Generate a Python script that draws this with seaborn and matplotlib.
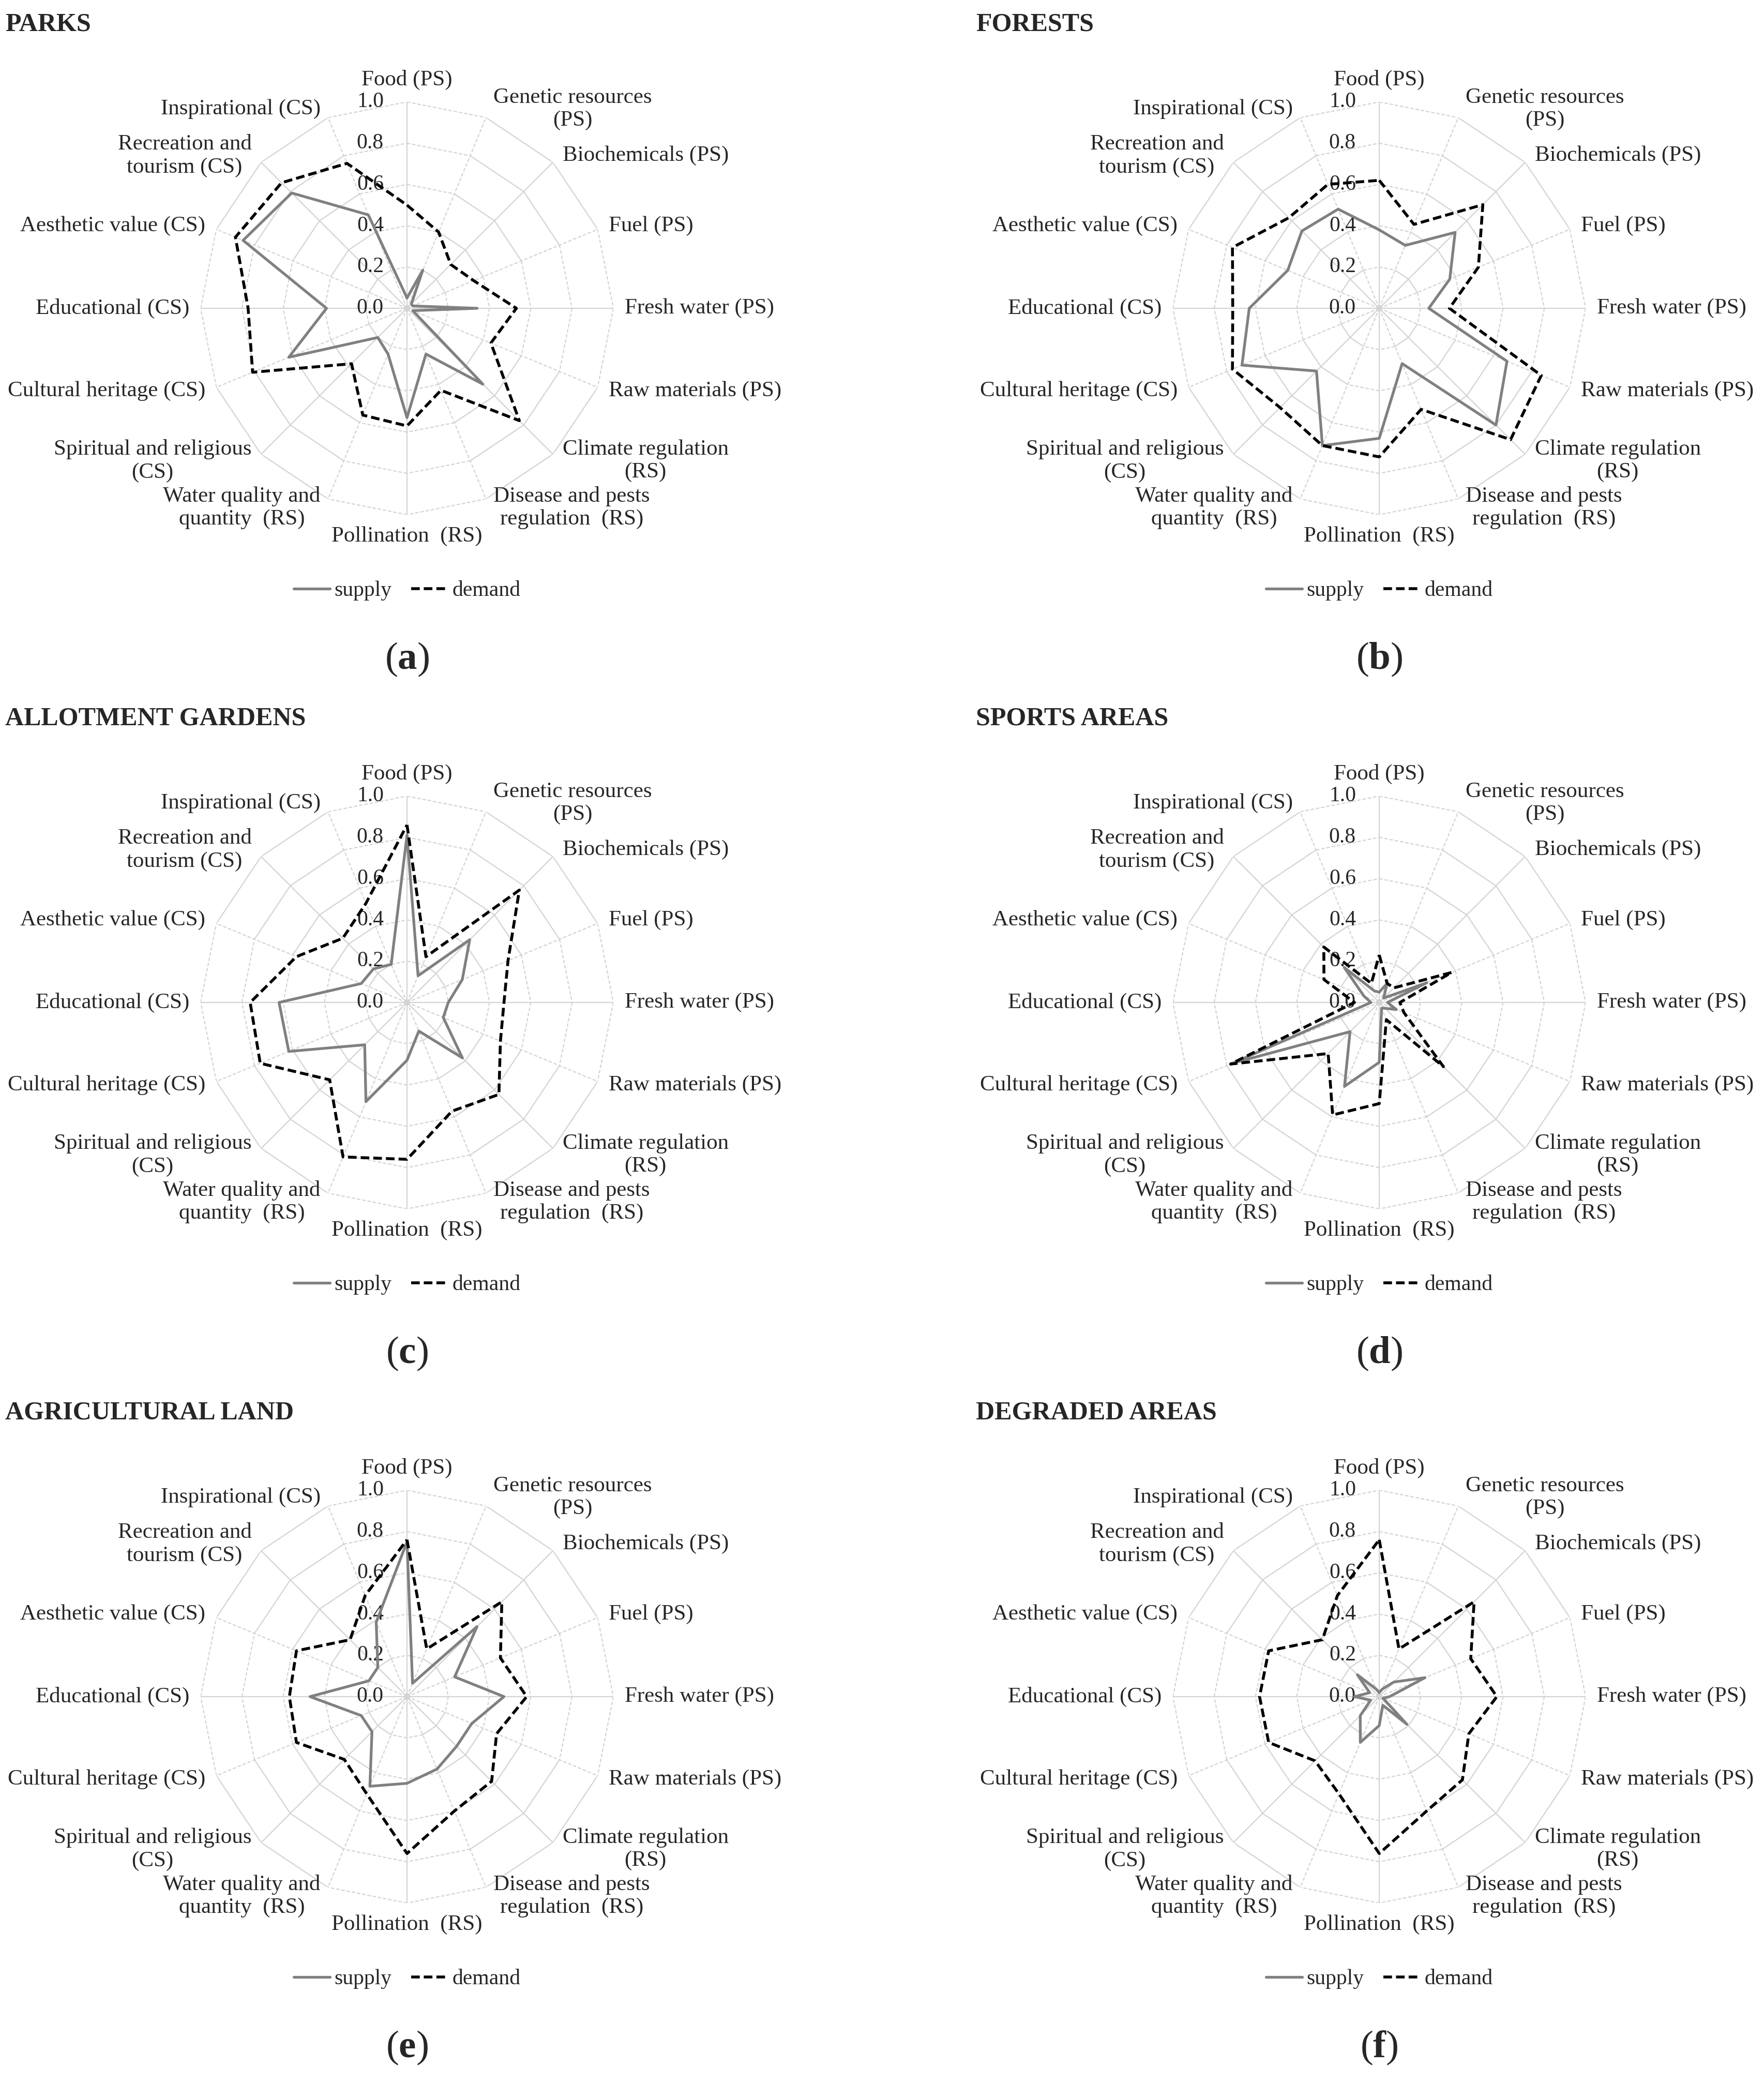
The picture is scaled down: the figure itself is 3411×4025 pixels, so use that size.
import numpy as np
import seaborn as sns
import matplotlib.pyplot as plt
from matplotlib.lines import Line2D
from matplotlib.transforms import offset_copy

# categories (ecosystem services), clockwise from the top
categories = ["Food (PS)", "Genetic resources\n(PS)", "Biochemicals (PS)", "Fuel (PS)",
              "Fresh water (PS)", "Raw materials (PS)", "Climate regulation\n(RS)",
              "Disease and pests\nregulation  (RS)", "Pollination  (RS)",
              "Water quality and\nquantity  (RS)", "Spiritual and religious\n(CS)",
              "Cultural heritage (CS)", "Educational (CS)", "Aesthetic value (CS)",
              "Recreation and\ntourism (CS)", "Inspirational (CS)"]

titles = ["PARKS", "FORESTS", "ALLOTMENT GARDENS", "SPORTS AREAS",
          "AGRICULTURAL LAND", "DEGRADED AREAS"]
tags = ["a", "b", "c", "d", "e", "f"]
ticks = [0.0, 0.2, 0.4, 0.6, 0.8, 1.0]

parks_supply = [0.05, 0.20, 0.03, 0.03, 0.34, 0.03, 0.52, 0.24, 0.53, 0.24, 0.20, 0.62, 0.39, 0.86, 0.79, 0.49]
parks_demand = [0.50, 0.40, 0.30, 0.35, 0.53, 0.44, 0.77, 0.43, 0.57, 0.56, 0.38, 0.81, 0.77, 0.90, 0.86, 0.76]

forests_supply = [0.38, 0.33, 0.52, 0.37, 0.24, 0.67, 0.80, 0.29, 0.63, 0.72, 0.43, 0.72, 0.63, 0.48, 0.53, 0.52]
forests_demand = [0.62, 0.44, 0.71, 0.52, 0.34, 0.85, 0.90, 0.53, 0.72, 0.72, 0.68, 0.77, 0.71, 0.77, 0.62, 0.65]

allot_supply = [0.81, 0.14, 0.43, 0.29, 0.20, 0.19, 0.38, 0.15, 0.28, 0.52, 0.29, 0.62, 0.62, 0.24, 0.23, 0.20]
allot_demand = [0.86, 0.24, 0.77, 0.53, 0.47, 0.49, 0.63, 0.57, 0.76, 0.81, 0.53, 0.77, 0.76, 0.58, 0.44, 0.52]

sports_supply = [0.05, 0.10, 0.03, 0.25, 0.04, 0.09, 0.04, 0.03, 0.29, 0.44, 0.20, 0.77, 0.04, 0.08, 0.24, 0.06]
sports_demand = [0.23, 0.10, 0.10, 0.38, 0.10, 0.13, 0.44, 0.09, 0.49, 0.59, 0.35, 0.78, 0.12, 0.29, 0.38, 0.10]

agri_supply = [0.75, 0.07, 0.48, 0.25, 0.47, 0.34, 0.34, 0.38, 0.42, 0.47, 0.24, 0.24, 0.47, 0.20, 0.20, 0.39]
agri_demand = [0.76, 0.25, 0.65, 0.49, 0.58, 0.47, 0.58, 0.60, 0.76, 0.51, 0.43, 0.58, 0.57, 0.58, 0.39, 0.53]

degraded_supply = [0.02, 0.04, 0.10, 0.24, 0.05, 0.02, 0.19, 0.045, 0.14, 0.24, 0.13, 0.045, 0.12, 0.05, 0.15, 0.04]
degraded_demand = [0.76, 0.25, 0.65, 0.48, 0.57, 0.47, 0.57, 0.60, 0.76, 0.51, 0.44, 0.58, 0.58, 0.58, 0.39, 0.53]

supply_sets = [parks_supply, forests_supply, allot_supply, sports_supply, agri_supply, degraded_supply]
demand_sets = [parks_demand, forests_demand, allot_demand, sports_demand, agri_demand, degraded_demand]

sns.set_theme(style="white")
plt.rcParams['font.family'] = ['Liberation Serif', 'DejaVu Serif']
plt.rcParams['mathtext.fontset'] = 'custom'
plt.rcParams['mathtext.rm'] = 'Liberation Serif'
plt.rcParams['mathtext.bf'] = 'Liberation Serif:bold'

W, H, DPI = 3412, 4025, 200
fig = plt.figure(figsize=(W / DPI, H / DPI), dpi=DPI)
fig.patch.set_facecolor('white')

R = 399                      # radius of the 1.0 ring in pixels
centers_x = [787, 2667]
center_y0, row_step = 596, 1342
title_x = [10, 1887]

n = len(categories)
theta = np.linspace(0, 2 * np.pi, n, endpoint=False)
theta_closed = np.append(theta, 2 * np.pi)
grid_col = '#d4d4d4'
supply_col = '#808080'
grid_dash = (0, (3, 1.6))
demand_dash = (0, (3, 1.4))
supply_lw, demand_lw = 1.9, 2.0

for i in range(6):
    row, col = divmod(i, 2)
    cx = centers_x[col]
    cy = center_y0 + row * row_step
    ax = fig.add_axes([(cx - R) / W, 1 - (cy + R) / H, 2 * R / W, 2 * R / H], projection='polar')
    ax.set_theta_zero_location('N')
    ax.set_theta_direction(-1)
    ax.grid(False)
    ax.spines['polar'].set_visible(False)
    ax.set_facecolor('none')

    # polygon grid: rings solid around the diagonals, dashed around the axes
    for r in ticks[1:]:
        for k in range(n):
            ls = '-' if k % 4 in (1, 2) else grid_dash
            ax.plot([theta_closed[k], theta_closed[k + 1]], [r, r], color=grid_col, lw=0.8, ls=ls, zorder=1)
    for k in range(n):
        ls = '-' if k % 2 == 0 else grid_dash
        ax.plot([theta[k], theta[k]], [0, 1], color=grid_col, lw=0.8, ls=ls, zorder=1)

    # value labels left of the top spoke
    tr = offset_copy(ax.transData, fig=fig, x=-45, y=0, units='dots')
    for t in ticks:
        ax.text(0, t, f'{t:.1f}', transform=tr, ha='right', va='center', fontsize=15, zorder=2)

    sup = supply_sets[i]
    dem = demand_sets[i]
    sns.lineplot(x=theta_closed, y=np.append(sup, sup[0]), sort=False, estimator=None, ax=ax,
                 color=supply_col, lw=supply_lw, zorder=3)
    sns.lineplot(x=theta_closed, y=np.append(dem, dem[0]), sort=False, estimator=None, ax=ax,
                 color='black', lw=demand_lw, linestyle=demand_dash, zorder=4)
    ax.set_ylim(0, 1)
    ax.set_xticks([])
    ax.set_yticks([])
    ax.set_xlabel('')
    ax.set_ylabel('')

    # category labels
    for k, lab in enumerate(categories):
        s, c = np.sin(theta[k]), np.cos(theta[k])
        if abs(s) < 1e-6:
            ha, dx, dy = 'center', 0, (43 if c > 0 else -42)
        else:
            ha = 'left' if s > 0 else 'right'
            dx = np.sign(s) * (10 + 12 * abs(s))
            dy = 18 * c
        trl = offset_copy(ax.transData, fig=fig, x=dx, y=dy, units='dots')
        ax.text(theta[k], 1.0, lab, transform=trl, ha=ha, va='center',
                multialignment='center', fontsize=15.5, linespacing=1.2)

    handles = [Line2D([], [], color=supply_col, lw=supply_lw),
               Line2D([], [], color='black', lw=demand_lw, ls=demand_dash)]
    ax.legend(handles, ['supply', 'demand'], loc='center', bbox_to_anchor=(0.5, 0.5 - 546 / (2 * R)),
              ncol=2, frameon=False, fontsize=15, handlelength=1.7, handletextpad=0.2,
              columnspacing=0.9)

    fig.text(title_x[col] / W, 1 - (47 + row * row_step) / H, titles[i],
             fontweight='bold', fontsize=18, ha='left', va='center')
    fig.text(cx / W, 1 - (cy + 679) / H, rf'($\mathbf{{{tags[i]}}}$)',
             ha='center', va='center', fontsize=27)

fig.savefig('out.png', dpi=DPI, facecolor='white')
